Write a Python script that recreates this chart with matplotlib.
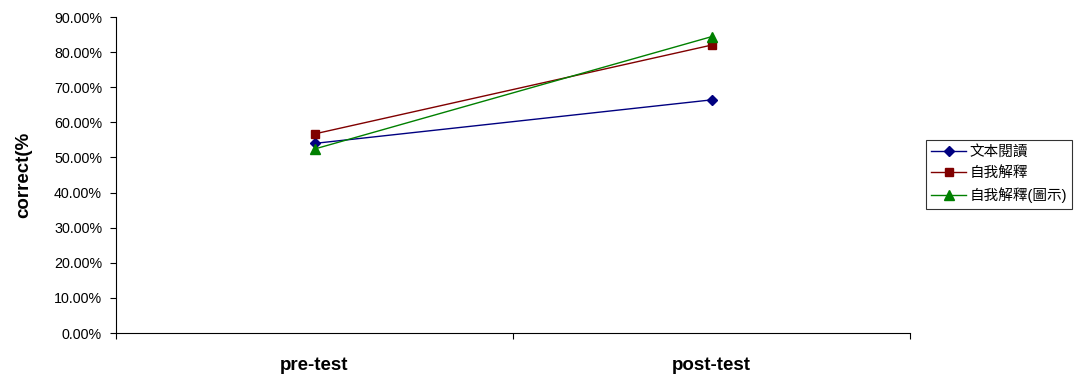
import matplotlib
matplotlib.use("Agg")
import matplotlib.pyplot as plt
from matplotlib.ticker import FuncFormatter, MultipleLocator

plt.rcParams['font.family'] = ['Liberation Sans', 'Noto Sans CJK TC', 'DejaVu Sans']

categories = ["pre-test", "post-test"]
series_names = ["文本閱讀", "自我解釋", "自我解釋(圖示)"]
text_reading = [0.540, 0.664]
self_explain = [0.567, 0.820]
self_explain_diagram = [0.524, 0.844]

colors = ["#000080", "#800000", "#008000"]
markers = ["D", "s", "^"]
msizes = [5, 6, 7]

fig = plt.figure(figsize=(10.78, 3.78), dpi=100)
ax = fig.add_axes([0.1076, 0.119, 0.7366, 0.836])

xs = [0.5, 1.5]
for vals, name, c, m, ms in zip([text_reading, self_explain, self_explain_diagram],
                                 series_names, colors, markers, msizes):
    ax.plot(xs, vals, color=c, marker=m, markersize=ms, linewidth=1.0, label=name)

ax.set_xlim(0, 2)
ax.set_ylim(0, 0.9)
ax.yaxis.set_major_locator(MultipleLocator(0.1))
ax.yaxis.set_major_formatter(FuncFormatter(lambda v, p: f"{v*100:.2f}%"))
ax.set_xticks([0, 1, 2])
ax.set_xticklabels([])
ax.set_xticks(xs, minor=True)
ax.set_xticklabels(categories, minor=True, fontsize=13.5, fontweight='bold')
ax.tick_params(axis='x', which='minor', length=0, pad=17)
ax.tick_params(axis='x', which='major', direction='out', length=4, width=0.8)
ax.tick_params(axis='y', direction='out', length=4, width=0.8, labelsize=10.3, pad=6)

for s in ['top', 'right']:
    ax.spines[s].set_visible(False)
for s in ['left', 'bottom']:
    ax.spines[s].set_linewidth(0.8)

ax.set_ylabel("correct(%", fontsize=13.5, fontweight='bold', labelpad=16)

leg = fig.legend(loc='upper left', bbox_to_anchor=(926/1078, 1 - 140/378),
                 fontsize=10.5, frameon=True, fancybox=False, edgecolor='black',
                 borderpad=0.35, labelspacing=0.5, handlelength=2.4,
                 handletextpad=0.25, borderaxespad=0)
leg.get_frame().set_linewidth(0.8)

fig.savefig("out.png", dpi=100)
